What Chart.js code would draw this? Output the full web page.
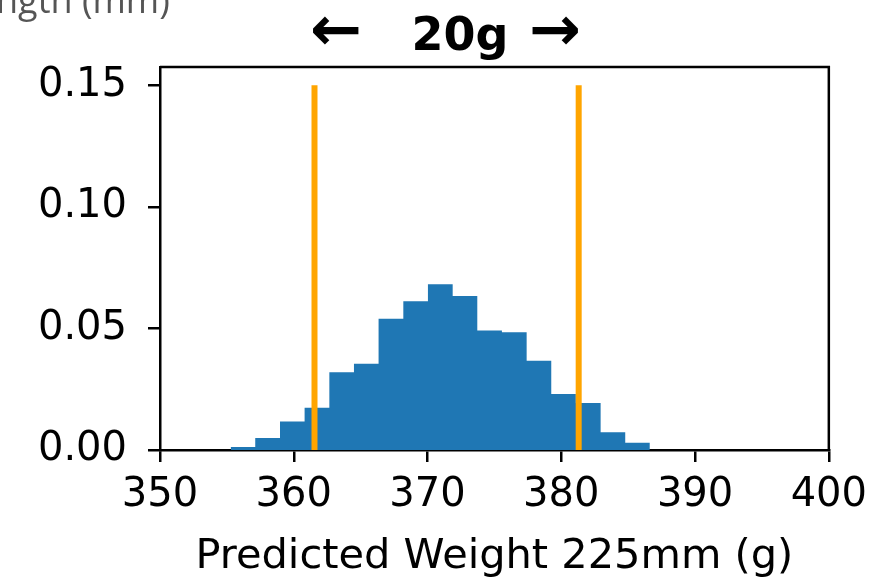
<!DOCTYPE html>
<html>
<head>
<meta charset="utf-8">
<script src="https://cdn.jsdelivr.net/npm/chart.js@4"></script>
<style>
  html, body { margin: 0; padding: 0; background: #fff; }
  canvas { display: block; }
</style>
</head>
<body>
<canvas id="histChart" width="877" height="588"></canvas>
<script>
// histogram bins (g) and density values
const binEdges = [355.28, 357.12, 358.97, 360.81, 362.66, 364.50, 366.34, 368.19, 370.03,
                  371.88, 373.72, 375.56, 377.41, 379.25, 381.09, 382.94, 384.78, 386.62];
const density = [0.0012, 0.0049, 0.0117, 0.0174, 0.0320, 0.0355, 0.0540, 0.0612, 0.0682,
                 0.0633, 0.0491, 0.0484, 0.0367, 0.0230, 0.0193, 0.0073, 0.0030];

// the two orange limit lines
const limitLines = [361.55, 381.3];
const limitHeight = 0.15;

const xTicks = [350, 360, 370, 380, 390, 400];
const yTicks = [0, 0.05, 0.10, 0.15];
const xTitle = 'Predicted Weight 225mm (g)';

const FONT = 'DejaVu Sans';

// step outline: each edge carries the height of the bin that starts there, last edge closes the final bin
const histPoints = binEdges.map((e, i) => ({ x: e, y: density[Math.min(i, density.length - 1)] }));

// top + right spines, plus the annotations written above the plot
const framePlugin = {
    id: 'frame',
    afterDraw(chart) {
        const { ctx, chartArea } = chart;
        ctx.save();
        ctx.strokeStyle = '#000';
        ctx.lineWidth = 2.5;
        ctx.beginPath();
        ctx.moveTo(chartArea.left, chartArea.top);
        ctx.lineTo(chartArea.right, chartArea.top);
        ctx.lineTo(chartArea.right, chartArea.bottom);
        ctx.stroke();

        // cut-off label from the figure above
        ctx.fillStyle = '#555';
        ctx.font = '36px "Open Sans"';
        ctx.textBaseline = 'alphabetic';
        ctx.textAlign = 'left';
        ctx.fillText('ngth (mm)', -4, 13);

        // handwritten note
        ctx.fillStyle = '#000';
        ctx.textBaseline = 'middle';
        ctx.textAlign = 'center';
        ctx.font = 'bold 62px ' + FONT;
        ctx.fillText('\u2190', 336, 34);
        ctx.fillText('\u2192', 555, 34);
        ctx.font = 'bold 46px ' + FONT;
        ctx.fillText('20g', 460, 38);
        ctx.restore();
    }
};

const ctx = document.getElementById('histChart').getContext('2d');
new Chart(ctx, {
    type: 'line',
    data: {
        datasets: [
            {
                label: 'hist',
                data: histPoints,
                stepped: 'before',
                fill: 'origin',
                backgroundColor: '#1f77b4',
                borderColor: '#1f77b4',
                borderWidth: 0,
                pointRadius: 0,
                order: 2
            },
            ...limitLines.map(v => ({
                label: 'limit ' + v,
                data: [{ x: v, y: 0 }, { x: v, y: limitHeight }],
                borderColor: '#ffa500',
                borderWidth: 6,
                borderCapStyle: 'butt',
                pointRadius: 0,
                fill: false,
                order: 1
            }))
        ]
    },
    options: {
        responsive: false,
        animation: false,
        devicePixelRatio: 1,
        layout: { padding: { left: 0, right: 47, top: 67, bottom: 0 } },
        plugins: { legend: { display: false }, tooltip: { enabled: false } },
        scales: {
            x: {
                type: 'linear',
                min: 350,
                max: 400,
                afterBuildTicks: axis => { axis.ticks = xTicks.map(v => ({ value: v })); },
                afterFit: scale => { scale.height = 138; },
                ticks: { font: { family: FONT, size: 40 }, color: '#000', padding: 10 },
                grid: { drawOnChartArea: false, drawTicks: true, tickLength: 12, color: '#000', lineWidth: 2.5 },
                border: { display: true, color: '#000', width: 2.5 },
                title: {
                    display: true,
                    text: xTitle,
                    color: '#000',
                    font: { family: FONT, size: 41.5 },
                    padding: { top: 0, bottom: 6 }
                }
            },
            y: {
                min: 0,
                max: 0.1575,
                afterBuildTicks: axis => { axis.ticks = yTicks.map(v => ({ value: v })); },
                afterFit: scale => { scale.width = 160; },
                ticks: {
                    font: { family: FONT, size: 40 },
                    color: '#000',
                    padding: 21,
                    callback: v => v.toFixed(2)
                },
                grid: { drawOnChartArea: false, drawTicks: true, tickLength: 12, color: '#000', lineWidth: 2.5 },
                border: { display: true, color: '#000', width: 2.5 }
            }
        }
    },
    plugins: [framePlugin]
});
</script>
</body>
</html>
